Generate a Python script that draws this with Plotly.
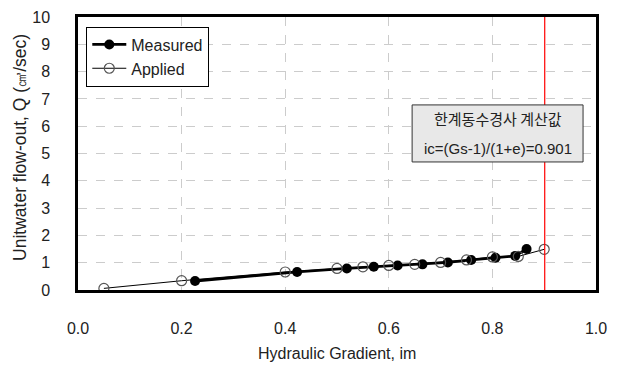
import plotly.graph_objects as go

# Hydraulic gradient vs. unit water flow-out
applied_i = [0.05, 0.20, 0.40, 0.50, 0.55, 0.60, 0.65, 0.70, 0.75, 0.80, 0.85, 0.90]
applied_q = [0.06, 0.34, 0.66, 0.79, 0.85, 0.90, 0.94, 1.01, 1.10, 1.21, 1.23, 1.49]

measured_i = [0.226, 0.423, 0.519, 0.571, 0.617, 0.665, 0.714, 0.759, 0.806, 0.844, 0.866]
measured_q = [0.33, 0.66, 0.79, 0.85, 0.90, 0.94, 1.01, 1.10, 1.18, 1.25, 1.50]

critical_i = 0.901
x_ticks = [0.0, 0.2, 0.4, 0.6, 0.8, 1.0]
y_ticks = list(range(0, 11))

FONT = "Liberation Sans, Arial, sans-serif"
TXT = "#222222"

fig = go.Figure()

fig.add_trace(go.Scatter(
    x=measured_i, y=measured_q, name="Measured", mode="lines+markers",
    line=dict(color="black", width=2.8),
    marker=dict(symbol="circle", size=10, color="black"),
))
fig.add_trace(go.Scatter(
    x=applied_i, y=applied_q, name="Applied", mode="lines+markers",
    line=dict(color="black", width=1),
    marker=dict(symbol="circle-open", size=10, color="#555555", line=dict(width=1.2)),
))

# critical hydraulic gradient line
fig.add_shape(type="line", xref="x", yref="paper", x0=critical_i, x1=critical_i,
              y0=0, y1=1, line=dict(color="red", width=1.2))

# info box
fig.add_shape(type="rect", xref="x", yref="y", x0=0.645, x1=0.975, y0=4.69, y1=6.78,
              fillcolor="#e8e8e8", line=dict(color="#333333", width=1), layer="above")
fig.add_annotation(x=0.81, y=6.3, xref="x", yref="y", showarrow=False,
                   text="한계동수경사 계산값",
                   font=dict(family="Noto Sans CJK KR", size=15, color=TXT))
fig.add_annotation(x=0.81, y=5.2, xref="x", yref="y", showarrow=False,
                   text=f"ic=(Gs-1)/(1+e)={critical_i:.3f}",
                   font=dict(family=FONT, size=15, color=TXT))

# axis titles
fig.add_annotation(x=0.5, y=-0.231, xref="paper", yref="paper", showarrow=False,
                   xanchor="center", yanchor="middle",
                   text="Hydraulic Gradient, im",
                   font=dict(family=FONT, size=16, color=TXT))
fig.add_annotation(x=-0.112, y=0.524, xref="paper", yref="paper", showarrow=False,
                   xanchor="center", yanchor="middle", textangle=-90,
                   text="Unitwater flow-out, Q (<span style='font-size:15px'>㎤</span>/sec)",
                   font=dict(family=FONT, size=17.5, color=TXT))

axis_common = dict(showline=True, linecolor="black", linewidth=2.5, mirror=True,
                   showgrid=True, gridcolor="#cccccc", griddash="dash", gridwidth=1,
                   zeroline=False, ticks="", automargin=False,
                   tickfont=dict(family=FONT, size=16, color=TXT))

fig.update_xaxes(range=[0, 1.0], tickvals=x_ticks, ticktext=[f"{v:.1f}" for v in x_ticks],
                 ticklabelstandoff=22, **axis_common)
fig.update_yaxes(range=[0, 10], tickvals=y_ticks, ticklabelstandoff=22, **axis_common)

fig.update_layout(
    width=620, height=366,
    margin=dict(l=78, r=24, t=17, b=76),
    plot_bgcolor="white", paper_bgcolor="white",
    showlegend=True,
    legend=dict(x=0.016, y=0.965, xanchor="left", yanchor="top",
                bgcolor="white", bordercolor="black", borderwidth=1,
                font=dict(family=FONT, size=16, color=TXT),
                tracegroupgap=0, itemwidth=34),
)

fig.write_html("out.html")
